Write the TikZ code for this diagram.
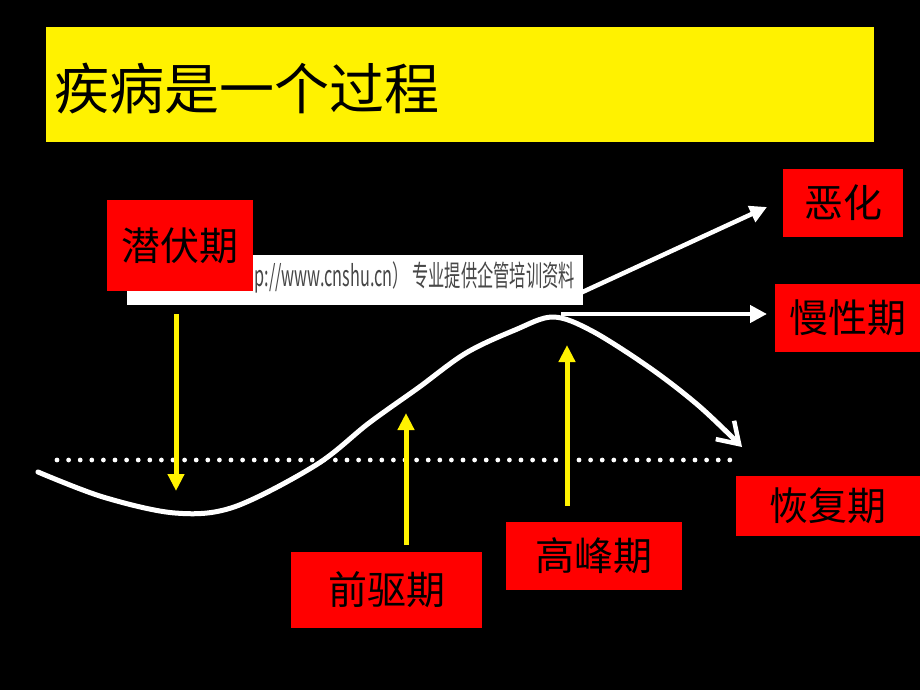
\documentclass[tikz,border=0pt]{standalone}
\usepackage{fontspec}
\setmainfont{Noto Sans CJK SC}
\usetikzlibrary{arrows.meta}
\begin{document}
\begin{tikzpicture}[x=1pt,y=-1pt,
  redbox/.style={fill=red, text=black, inner sep=0pt, font=\fontsize{39pt}{39pt}\selectfont},
  whitearrow/.style={white, line width=4.5pt, -{Triangle[length=17pt,width=17pt]}},
  yellowarrow/.style={yellow, line width=5pt, -{Triangle[length=17pt,width=16pt]}},
  curveline/.style={white, line width=5pt, line cap=round, line join=round, -{Straight Barb[length=20pt,width=26pt,line width=4.5pt]}},
  dotline/.style={white, line width=4.8pt, line cap=round, dash pattern=on 0pt off 11.6pt}
]
\useasboundingbox (0,0) rectangle (920,690);
\fill[black] (0,0) rectangle (920,690);

% title
\node[fill=yellow, minimum width=828pt, minimum height=115pt, inner sep=0pt] (titlebox) at (460,84.5) {};
\node[anchor=west, inner sep=0pt, text=black, font=\fontsize{55pt}{55pt}\selectfont] (title) at (54,89) {疾病是一个过程};

% coordinates
\coordinate (c0) at (38,472);
\coordinate (peak) at (553,317);
\coordinate (kink) at (316,465);
\coordinate (dotA) at (57,460);
\coordinate (dotB) at (737,460);

% dotted baseline
\draw[dotline] (dotA) -- (dotB);

% disease curve
\draw[curveline] plot[smooth, tension=0.55] coordinates {(38,472) (103,497) (175,513) (234,507) (316,465) (369,423) (418,388) (466,353) (515,330) (553,317) (592,331) (650,368) (699,406) (742,447)};

% branch arrows
\coordinate (worseStart) at (563,301);
\coordinate (chronStart) at (561,314);
\coordinate (worseEnd) at (767,207);
\coordinate (chronEnd) at (767,314);
\draw[whitearrow] (worseStart) -- (worseEnd);
\draw[whitearrow] (chronStart) -- (chronEnd);

% watermark
\node[fill=white, minimum width=456pt, minimum height=50pt, inner sep=0pt] (wm) at (355,280) {};
\node[anchor=east, inner sep=0pt, text=black!72] (wmtext) at (575,277) {\fontsize{29pt}{29pt}\selectfont\scalebox{0.56}[1]{p://www.cnshu.cn）\ 专业提供企管培训资料}};

% red label boxes
\node[redbox, minimum width=146pt, minimum height=91pt] (latent) at (180,245.5) {潜伏期};
\node[redbox, minimum width=120pt, minimum height=68pt] (worse) at (843,203) {恶化};
\node[redbox, minimum width=145pt, minimum height=68pt] (chronic) at (847.5,318) {慢性期};
\node[redbox, minimum width=184pt, minimum height=60pt] (recover) at (828,506) {恢复期};
\node[redbox, minimum width=176pt, minimum height=68pt] (peakbox) at (594,556) {高峰期};
\node[redbox, minimum width=191pt, minimum height=76pt] (prodrome) at (386.5,590) {前驱期};

% yellow arrows
\coordinate (latentTip) at (176,491);
\coordinate (prodTip) at (406,413);
\coordinate (peakTip) at (567,345);
\draw[yellowarrow] (176,314) -- (latentTip);
\draw[yellowarrow] (406,545) -- (prodTip);
\draw[yellowarrow] (567,506) -- (peakTip);
\end{tikzpicture}
\end{document}
